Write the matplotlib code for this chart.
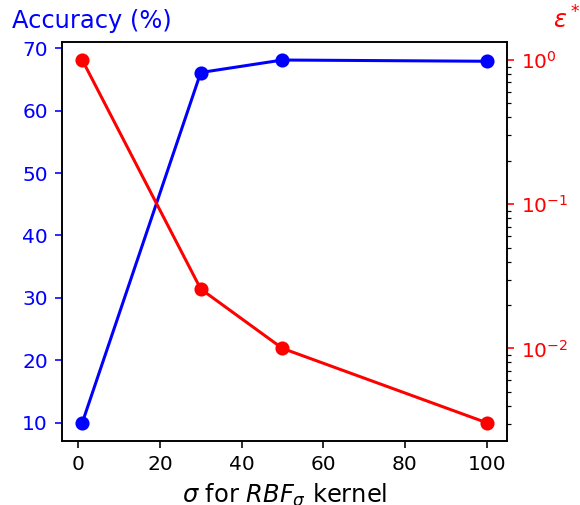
import matplotlib as mpl
mpl.use('Agg')
from matplotlib import pyplot as plt

sigma = [1, 30, 50, 100]
accuracy = [10.0, 66.1, 68.1, 67.9]
epsilon = [1.0, 0.0258, 0.0100, 0.00305]

fig = plt.figure(figsize=(4, 3.483), dpi=145)
ax = fig.add_axes([0.107, 0.127, 0.767, 0.79])
ax.plot(sigma, accuracy, 'bo-')
ax.tick_params(axis='y', colors='b')
ax.set_xlabel(r'$\sigma$ for $RBF_\sigma$ kernel', fontsize=12)
ax.set_ylabel('Accuracy (%)', color='b', fontsize=12, rotation=0, ha='left', va='bottom')
ax.yaxis.set_label_coords(-0.112, 1.022)

ax2 = ax.twinx()
ax2.plot(sigma, epsilon, 'ro-')
ax2.set_yscale('log')
ax2.tick_params(axis='y', which='major', colors='r')
ax2.set_ylabel(r'$\epsilon^*$', color='r', fontsize=12, rotation=0, ha='right', va='bottom')
ax2.yaxis.set_label_coords(1.165, 1.022)

fig.savefig('out.png', dpi=145)
